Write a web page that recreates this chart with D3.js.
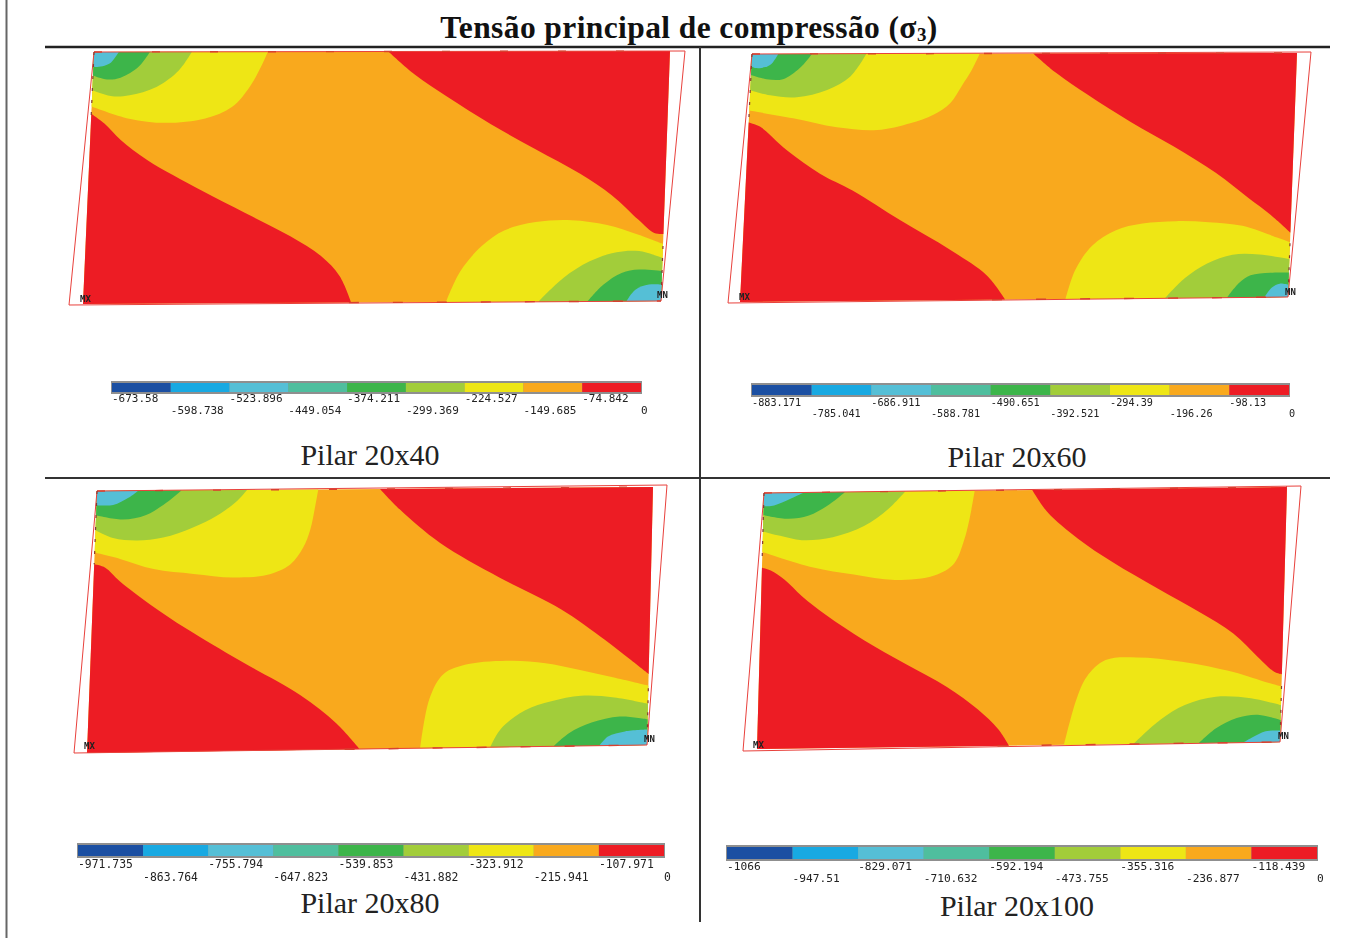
<!DOCTYPE html>
<html>
<head>
<meta charset="utf-8">
<style>
  html, body { margin: 0; background: #fff; }
  .legend-label { font-family: "DejaVu Sans Mono", monospace; fill: #222; filter: blur(0.3px); }
  .node-label { font-family: "DejaVu Sans Mono", monospace; font-weight: bold; font-size: 9px; fill: #222; filter: blur(0.3px); }
  .title { font-family: "Liberation Serif", serif; font-weight: bold; font-size: 31.5px; letter-spacing: 0.4px; fill: #111; }
  .panel-name { font-family: "Liberation Serif", serif; font-size: 30px; fill: #222; }
  .bands { filter: blur(0.5px); }
</style>
<script src="https://cdn.jsdelivr.net/npm/d3@7"></script>
</head>
<body>
<div id="chart"></div>
<script>
const WIDTH = 1357;
const HEIGHT = 938;

const titleText = "Tensão principal de compressão (σ";
const panelNames = ["Pilar 20x40", "Pilar 20x60", "Pilar 20x80", "Pilar 20x100"];
const bandColors = ["#1b4fa2", "#18a9e2", "#55bfd6", "#4fbe9e", "#3db54a", "#a2cd3a", "#eee615", "#f9a91d", "#ed1c24"];

const ticks40 = [-673.58, -598.738, -523.896, -449.054, -374.211, -299.369, -224.527, -149.685, -74.842, 0];
const ticks60 = [-883.171, -785.041, -686.911, -588.781, -490.651, -392.521, -294.39, -196.26, -98.13, 0];
const ticks80 = [-971.735, -863.764, -755.794, -647.823, -539.853, -431.882, -323.912, -215.941, -107.971, 0];
const ticks100 = [-1066, -947.51, -829.071, -710.632, -592.194, -473.755, -355.316, -236.877, -118.439, 0];

// contour lines, as [% of width, % of height] from the top left.
// same order in every list, curveBand/curveCorner say what each one closes into
const curveBand = [8, 8, 6, 5, 4, 2, 6, 5, 4, 2];
const curveCorner = [[100, 0], [0, 100], [0, 0], [0, 0], [0, 0], [0, 0], [100, 100], [100, 100], [100, 100], [100, 100]];

const curves40 = [
  [[51.1, 0], [55.9, 9.3], [61.5, 17.9], [69.4, 29.1], [77.3, 39.1], [85.2, 49], [90.8, 57.6], [95.6, 67.5], [98.4, 72.8], [100, 73.2]],
  [[0, 24.5], [2.4, 28.5], [5.3, 35], [10.1, 43], [19.6, 55], [27.5, 64.2], [35.4, 73.5], [40.9, 81.5], [44.2, 89.4], [46.4, 100]],
  [[30.2, 0], [29.1, 6], [27.3, 13.9], [24.4, 21.9], [19.8, 26.5], [12.9, 28.2], [6.6, 26.5], [0, 21.6]],
  [[17, 0], [14.9, 7.3], [11.1, 13.9], [6.5, 17.2], [3.5, 17.6], [0, 15.2]],
  [[9.7, 0], [7.8, 6], [4.8, 10.2], [2.5, 10.9], [0, 9.3]],
  [[4.3, 0], [2.8, 4.6], [0.5, 6], [0, 5.7]],
  [[62.8, 100], [65, 88], [68.7, 77.5], [72.4, 71.5], [77.8, 68.2], [84, 67.5], [90.2, 69.5], [95.7, 73.5], [100, 77.2]],
  [[78.8, 100], [82.9, 90.7], [87.4, 84], [92, 80.4], [95.9, 80], [100, 82.8]],
  [[87.3, 100], [89.9, 93.4], [93, 88.7], [96, 87.4], [100, 88]],
  [[94, 100], [95.5, 95.4], [97.8, 93.4], [100, 93.4]]
];

const curves60 = [
  [[51.6, 0], [56, 8], [62, 17], [70, 28], [78, 38], [86, 49], [92.1, 59.3], [96.3, 66.3], [100, 73.6]],
  [[0, 27.6], [2.1, 29.3], [7.3, 39], [13.5, 48.4], [19.6, 55.3], [28.6, 67.5], [38, 79.7], [44.8, 90], [48.4, 100]],
  [[41.8, 0], [40.5, 6.5], [38.7, 13.3], [36.8, 20], [33.8, 24.8], [29.6, 28.2], [23.6, 30.9], [16.2, 29.7], [8.1, 26], [0, 22.8]],
  [[21, 0], [18.2, 9.3], [14.1, 14.6], [8.6, 17.5], [3.7, 16.7], [0, 14.6]],
  [[11, 0], [8.9, 5.7], [5.9, 10.2], [2.9, 10.2], [0, 8.5]],
  [[4.8, 0], [3.4, 4.5], [1, 5.7], [0, 5]],
  [[59.4, 100], [61, 88], [63.9, 78.3], [68, 72.2], [72.9, 69.5], [79, 68.6], [85, 69.1], [91.2, 70.7], [97.6, 75.6], [100, 77.6]],
  [[77.6, 100], [81, 92], [85, 86], [89.6, 82.5], [94.5, 82.5], [100, 84.5]],
  [[88.9, 100], [91, 94], [93, 91], [96.6, 90], [100, 90]],
  [[95.7, 100], [97, 96], [98.4, 94.5], [100, 95]]
];

const curves80 = [
  [[50.9, 0], [54.6, 8], [62, 21], [72.8, 34.5], [84, 47], [92, 59], [96.6, 66.7], [100, 72.5]],
  [[0, 28], [2, 29.3], [4.7, 34.5], [10.3, 43.5], [17, 53], [26.8, 65.5], [37.8, 79], [44.4, 90], [48.7, 100]],
  [[39.8, 0], [39.3, 7], [38.6, 15.4], [37.4, 22.4], [35.2, 28.7], [31, 32.7], [25, 33.5], [17.9, 32], [10.7, 30], [4.6, 26], [0, 23.5]],
  [[27, 0], [25, 4.7], [21.7, 9.8], [17.5, 14.2], [12.2, 18], [7.5, 19], [3.2, 18], [0, 15]],
  [[15.2, 0], [12.6, 4.6], [9, 9.3], [4.8, 11], [0, 9.3]],
  [[7.4, 0], [5.7, 2.7], [3, 5.4], [0, 5.4]],
  [[59.5, 100], [60.9, 81], [63.3, 71.5], [67.7, 67.8], [75.4, 66.7], [81.5, 67.8], [87.5, 70.5], [93.6, 73.6], [100, 77]],
  [[72, 100], [73.8, 93], [78, 86], [82.7, 82.6], [88, 80.6], [94, 81.4], [100, 84]],
  [[83.3, 100], [86, 95], [90, 91], [95, 88.8], [100, 90]],
  [[91.5, 100], [93, 96.5], [96, 94.6], [100, 94]]
];

const curves100 = [
  [[51.3, 0], [54.3, 8.7], [60.3, 19.3], [67, 28.6], [75.8, 39.2], [83.8, 48.5], [90.5, 57.2], [95.3, 66.5], [98.6, 72.5], [100, 73.4]],
  [[0, 29.2], [1.7, 30.3], [4.4, 34], [7.8, 40.5], [12.5, 48], [19.9, 58], [27.9, 67.4], [36, 76.7], [42, 85.6], [46, 93.4], [48.2, 100]],
  [[40.3, 0], [39.4, 11.6], [38.5, 19.5], [36.7, 28.5], [33, 33], [25.5, 34.6], [17.6, 32.3], [9.6, 29.2], [0, 23]],
  [[27, 0], [23.9, 6.7], [19.3, 13.4], [13.4, 17.6], [7.5, 18.6], [3.3, 16.8], [0, 15]],
  [[15.5, 0], [12.6, 4.7], [8.7, 9], [4.8, 10.2], [0, 8.7]],
  [[7.6, 0], [5.3, 2.2], [2, 4.9], [0, 5.2]],
  [[58.7, 100], [60.8, 82.5], [62.7, 73.4], [66.2, 67], [72.2, 66.1], [80.8, 68], [90.7, 72.3], [97.4, 76.7], [100, 78.2]],
  [[72, 100], [77, 90.7], [81.6, 85], [87.5, 81.9], [94.2, 82.7], [100, 85.6]],
  [[84.5, 100], [87.7, 94.3], [91.6, 90.4], [95.6, 89.2], [100, 91.4]],
  [[93, 100], [94.9, 97.8], [97.2, 95.7], [100, 95.5]]
];

const allTicks = [ticks40, ticks60, ticks80, ticks100];
const allCurves = [curves40, curves60, curves80, curves100];

// where each panel sits on the page
const panelLayout = [
  { tl: [94, 52], tr: [670, 51], br: [661, 301], bl: [83, 304], outTr: [685, 51], outBl: [69, 305],
    bar: [112, 641, 382, 393], rows: [402, 414], font: 11, name: [370, 465],
    mx: [80, 302], mn: [657, 298] },
  { tl: [752, 54], tr: [1297, 53], br: [1288, 297], bl: [740, 302], outTr: [1311, 52], outBl: [728, 303],
    bar: [752, 1289, 384, 396], rows: [406, 417], font: 10.2, name: [1017, 467],
    mx: [739, 300], mn: [1285, 295] },
  { tl: [97, 491], tr: [653, 487], br: [647, 745], bl: [87, 753], outTr: [667, 485], outBl: [74, 753],
    bar: [78, 664, 844, 857], rows: [868, 881], font: 11.4, name: [370, 913],
    mx: [84, 749], mn: [644, 742] },
  { tl: [764, 493], tr: [1287, 487], br: [1280, 742], bl: [757, 749], outTr: [1301, 486], outBl: [743, 751],
    bar: [727, 1317, 846, 860], rows: [870, 882], font: 11.2, name: [1017, 916],
    mx: [753, 748], mn: [1278, 739] }
];

const svg = d3.select("#chart")
  .append("svg")
  .attr("width", WIDTH)
  .attr("height", HEIGHT)
  .style("display", "block");

// page rules
const rules = [
  [6.5, 0, 6.5, 938, "#666", 2],
  [45, 47, 1330, 47, "#222", 2.5],
  [45, 478, 1330, 478, "#333", 2],
  [700, 47, 700, 922, "#333", 2]
];
svg.selectAll("line.rule")
  .data(rules)
  .join("line")
  .attr("class", "rule")
  .attr("x1", d => d[0]).attr("y1", d => d[1])
  .attr("x2", d => d[2]).attr("y2", d => d[3])
  .attr("stroke", d => d[4])
  .attr("stroke-width", d => d[5]);

const title = svg.append("text")
  .attr("class", "title")
  .attr("x", 689)
  .attr("y", 38)
  .attr("text-anchor", "middle");
title.append("tspan").text(titleText);
title.append("tspan").attr("font-size", 19).attr("dy", 3).text("3");
title.append("tspan").attr("dy", -3).text(")");

const drawPanel = (layout, i) => {
  const g = svg.append("g");
  const bands = g.append("g").attr("class", "bands");

  // model % -> page, the plate is a skewed quad so go through both edges
  const pct = d3.scaleLinear().domain([0, 100]);
  const topEdge = pct.copy().range([layout.tl, layout.tr]);
  const botEdge = pct.copy().range([layout.bl, layout.br]);
  const project = ([u, v]) => pct.copy().range([topEdge(u), botEdge(u)])(v);

  const curveLine = d3.line().curve(d3.curveCatmullRom.alpha(0.5));
  const corners = [[0, 0], [100, 0], [100, 100], [0, 100]].map(project);

  bands.append("path")
    .attr("d", d3.line()(corners) + "Z")
    .attr("fill", bandColors[7]);

  bands.selectAll("path.band")
    .data(allCurves[i])
    .join("path")
    .attr("class", "band")
    .attr("d", (pts, k) => curveLine(pts.map(project)) + "L" + project(curveCorner[k]).join(",") + "Z")
    .attr("fill", (pts, k) => bandColors[curveBand[k]]);

  // deformed outline
  g.append("path")
    .attr("d", d3.line()([layout.tl, layout.outTr, layout.br, layout.outBl]) + "Z")
    .attr("fill", "none")
    .attr("stroke", "#e8413c")
    .attr("stroke-width", 1);

  // undeformed edge shows through in short dashes
  g.append("path")
    .attr("d", d3.line()([layout.tl, layout.tr]))
    .attr("stroke", "#d8402f")
    .attr("stroke-width", 1.4)
    .attr("stroke-dasharray", "8 50");
  g.append("path")
    .attr("d", d3.line()([project([46, 100]), layout.br]))
    .attr("stroke", "#d8402f")
    .attr("stroke-width", 1.4)
    .attr("stroke-dasharray", "10 34");
  g.append("path")
    .attr("d", d3.line()([layout.tl, project([0, 28])]))
    .attr("stroke", "#8a3a30")
    .attr("stroke-width", 1.2)
    .attr("stroke-dasharray", "3 9");
  g.append("path")
    .attr("d", d3.line()([project([100, 78]), layout.br]))
    .attr("stroke", "#8a3a30")
    .attr("stroke-width", 1.2)
    .attr("stroke-dasharray", "3 9");

  g.append("text").attr("class", "node-label").attr("x", layout.mx[0]).attr("y", layout.mx[1]).text("MX");
  g.append("text").attr("class", "node-label").attr("x", layout.mn[0]).attr("y", layout.mn[1]).text("MN");

  // legend bar
  const ticks = allTicks[i];
  const [x0, x1, y0, y1] = layout.bar;
  const legendX = d3.scaleLinear().domain([ticks[0], 0]).range([x0, x1]);

  g.append("rect")
    .attr("x", x0 - 1).attr("y", y0 - 1)
    .attr("width", x1 - x0 + 2).attr("height", y1 - y0 + 2)
    .attr("fill", "#8f8f8f");

  g.selectAll("rect.bin")
    .data(d3.pairs(ticks))
    .join("rect")
    .attr("class", "bin")
    .attr("x", d => legendX(d[0]))
    .attr("y", y0 + 1)
    .attr("width", d => legendX(d[1]) - legendX(d[0]))
    .attr("height", y1 - y0 - 2)
    .attr("fill", (d, k) => bandColors[k]);

  g.selectAll("text.legend-label")
    .data(ticks)
    .join("text")
    .attr("class", "legend-label")
    .attr("x", d => legendX(d))
    .attr("y", (d, k) => layout.rows[k % 2])
    .attr("font-size", layout.font)
    .text(d => d);

  g.append("text")
    .attr("class", "panel-name")
    .attr("x", layout.name[0])
    .attr("y", layout.name[1])
    .attr("text-anchor", "middle")
    .text(panelNames[i]);
};

panelLayout.forEach(drawPanel);
</script>
</body>
</html>
